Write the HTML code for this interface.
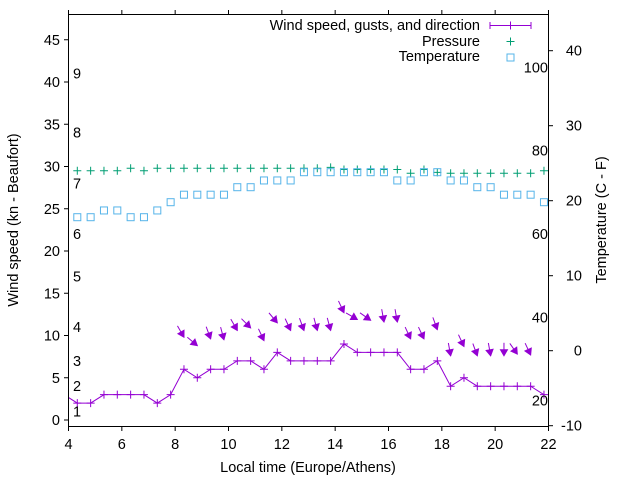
<!DOCTYPE html>
<html><head><meta charset="utf-8"><style>
html,body{margin:0;padding:0;background:#fff}
svg{display:block;font-family:"Liberation Sans",sans-serif}
</style></head><body>
<svg id="chart" width="640" height="480" viewBox="0 0 640 480" xmlns="http://www.w3.org/2000/svg">
<defs><clipPath id="plotclip"><rect x="68.5" y="14.5" width="480" height="412"/></clipPath></defs>
<g id="grid"></g>
<g id="marks" clip-path="url(#plotclip)"></g>
<g id="axes"></g>
</svg>
<script>
const times = [4.33,4.83,5.33,5.83,6.33,6.83,7.33,7.83,8.33,8.83,9.33,9.83,10.33,10.83,11.33,11.83,12.33,12.83,13.33,13.83,14.33,14.83,15.33,15.83,16.33,16.83,17.33,17.83,18.33,18.83,19.33,19.83,20.33,20.83,21.33,21.83];
const windSpeed = [2,2,3,3,3,3,2,3,6,5,6,6,7,7,6,8,7,7,7,7,9,8,8,8,8,6,6,7,4,5,4,4,4,4,4,3];
const windBefore = {t:3.83, v:3};
const temperature = [17.8,17.8,18.7,18.7,17.8,17.8,18.7,19.8,20.8,20.8,20.8,20.8,21.8,21.8,22.7,22.7,22.7,23.8,23.8,23.8,23.8,23.8,23.8,23.8,22.7,22.7,23.8,23.8,22.7,22.7,21.8,21.8,20.8,20.8,20.8,19.8];
const pressure = [29.5,29.5,29.5,29.5,29.8,29.5,29.8,29.8,29.8,29.8,29.8,29.8,29.8,29.8,29.8,29.8,29.8,29.8,29.8,29.9,29.65,29.65,29.65,29.65,29.65,29.2,29.65,29.3,29.2,29.2,29.2,29.2,29.2,29.2,29.2,29.5];
const gustTimes = [8.33,8.83,9.33,9.83,10.33,10.83,11.33,11.83,12.33,12.83,13.33,13.83,14.33,14.83,15.33,15.83,16.33,16.83,17.33,17.83,18.33,18.83,19.33,19.83,20.33,20.83,21.33];
const gusts = [9.8,8.8,9.6,9.5,10.6,10.9,9.4,11.5,10.6,10.6,10.6,10.6,12.7,11.9,11.8,11.6,11.6,9.6,9.6,10.7,7.6,8.7,7.6,7.6,7.6,7.8,7.7];
const windDir = [330,310,340,345,330,315,335,320,335,340,345,345,335,300,305,350,350,335,335,340,350,335,340,350,0,325,335];
const xTicks = [4,6,8,10,12,14,16,18,20,22];
const yTicks = [0,5,10,15,20,25,30,35,40,45];
const tTicks = [-10,0,10,20,30,40];
const beaufortLabels = ["1","2","3","4","5","6","7","8","9"];
const beaufortKn = [1,4,7,11,17,22,28,34,41];
const fahrLabels = ["20","40","60","80","100"];
const fahrC = [-6.67,4.44,15.56,26.67,37.78];

const X = t => 68.5 + (t-4)*480/18;
const Y = v => 420 - v*8.45;
const T = c => 350.7 - c*7.5;
const NS = "http://www.w3.org/2000/svg";
function mk(tag, parent, attrs){const e=document.createElementNS(NS,tag);for(const k in attrs)e.setAttribute(k,attrs[k]);parent.appendChild(e);return e;}
const marks = document.getElementById('marks');
const axes = document.getElementById('axes');
const PURPLE="#9400d3", GREEN="#009e73", BLUE="#56b4e9";

// wind line
let pts = [[X(windBefore.t),Y(windBefore.v)]].concat(times.map((t,i)=>[X(t),Y(windSpeed[i])]));
let wl = mk('polyline', marks, {points: pts.map(p=>p.join(',')).join(' '), fill:'none', stroke:PURPLE, 'stroke-width':1});


times.forEach((t,i)=>{
  const x=X(t), y=Y(windSpeed[i]);
  const p = mk('path', marks, {d:`M${x-4},${y}h8M${x},${y-4}v8`, stroke:PURPLE,'stroke-width':1});
  
  
});
// gust arrows
gustTimes.forEach((t,i)=>{
  const x=X(t), y=Y(gusts[i]);
  const a=(windDir[i]+180)*Math.PI/180; // direction of travel
  const dx=Math.sin(a), dy=-Math.cos(a);
  const L=13;
  const g = mk('g', marks, {});
  
  
  mk('line', g, {x1:x-dx*L, y1:y-dy*L, x2:x, y2:y, stroke:PURPLE,'stroke-width':1});
  const hx=x-dx*6, hy=y-dy*6, px=-dy, py=dx;
  mk('polygon', g, {points:`${x},${y} ${hx+px*3.5},${hy+py*3.5} ${hx-px*3.5},${hy-py*3.5}`, fill:PURPLE, stroke:PURPLE,'stroke-width':1});
});
// pressure
times.forEach((t,i)=>{
  const x=X(t), y=Y(pressure[i]);
  const p = mk('path', marks, {d:`M${x-4},${y}h8M${x},${y-4}v8`, stroke:GREEN,'stroke-width':1});
  
  
});
// temperature
times.forEach((t,i)=>{
  const x=X(t), y=T(temperature[i]);
  const r = mk('rect', marks, {x:x-3.5, y:y-3.5, width:7, height:7, fill:'none', stroke:BLUE,'stroke-width':1});
  
  
});

// axes frame
const fr = mk('rect', axes, {x:68.5,y:14.5,width:480,height:412,fill:'none',stroke:'#000','stroke-width':1});


function txt(parent, s, x, y, anchor, size, name){
  const e = mk('text', parent, {x:x, y:y, 'text-anchor':anchor, 'font-size':size, fill:'#000'});
  e.textContent = s;
  
  
  return e;
}
xTicks.forEach(v=>{
  const x=X(v);
  mk('line', axes, {x1:x,y1:426.5,x2:x,y2:431,stroke:'#000'});
  mk('line', axes, {x1:x,y1:14.5,x2:x,y2:10,stroke:'#000'});
  txt(axes, String(v), x, 449, 'middle', 14.5, 'x-tick-label');
});
yTicks.forEach(v=>{
  const y=Y(v);
  mk('line', axes, {x1:68.5,y1:y,x2:64,y2:y,stroke:'#000'});
  txt(axes, String(v), 60, y+5, 'end', 14.5, 'y-left-tick-label');
});
tTicks.forEach(v=>{
  const y=T(v);
  mk('line', axes, {x1:548.5,y1:y,x2:553,y2:y,stroke:'#000'});
  txt(axes, String(v), 582, y+5, 'end', 14.5, 'y-right-tick-label');
});
beaufortLabels.forEach((s,i)=>txt(axes, s, 73, Y(beaufortKn[i])+5, 'start', 14.5, 'beaufort-label'));
fahrLabels.forEach((s,i)=>txt(axes, s, 548, T(fahrC[i])+5, 'end', 14.5, 'fahrenheit-label'));
txt(axes, 'Local time (Europe/Athens)', 308, 472, 'middle', 14.5, 'x-axis-title');
const yl = txt(axes, 'Wind speed (kn - Beaufort)', 0, 0, 'middle', 14.5, 'y-left-axis-title');
yl.setAttribute('transform','translate(18,220) rotate(-90)');
const yr = txt(axes, 'Temperature (C - F)', 0, 0, 'middle', 14.5, 'y-right-axis-title');
yr.setAttribute('transform','translate(606,220) rotate(-90)');

// legend
const lg = mk('g', axes, {});


txt(lg, 'Wind speed, gusts, and direction', 480, 30, 'end', 14.5, 'legend-wind-label');
mk('path', lg, {d:'M490,25.5h41M490,22v7M531,22v7M510.5,21.5v8', stroke:PURPLE, 'stroke-width':1, fill:'none'});
txt(lg, 'Pressure', 480, 46, 'end', 14.5, 'legend-pressure-label');
mk('path', lg, {d:'M506.5,41.5h8M510.5,37.5v8', stroke:GREEN, 'stroke-width':1});
txt(lg, 'Temperature', 480, 61, 'end', 14.5, 'legend-temperature-label');
mk('rect', lg, {x:507, y:54, width:7, height:7, fill:'none', stroke:BLUE, 'stroke-width':1});
</script>
</body></html>
